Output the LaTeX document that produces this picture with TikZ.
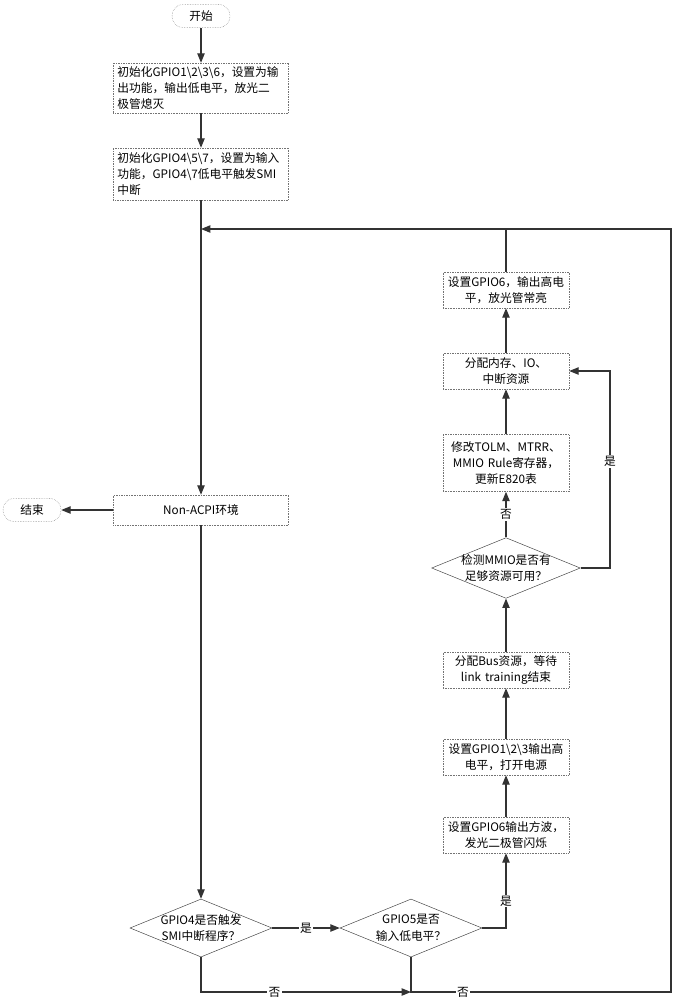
\documentclass[tikz,border=0pt]{standalone}
\usepackage{fontspec}
\setmainfont{Noto Sans CJK SC}
\usetikzlibrary{shapes.geometric,arrows.meta}
\tikzstyle{conn} = [draw=black!80, line width=0.9pt]
\tikzstyle{term} = [draw=black!55, densely dotted, rounded corners=0.34cm, minimum width=1.74cm, minimum height=0.7cm, inner sep=0pt]
\tikzstyle{proc} = [draw=black!55, densely dotted, inner xsep=0.12cm, inner ysep=0pt]
\tikzstyle{wide} = [proc, text width=5.01cm, minimum width=5.25cm, align=left]
\tikzstyle{narrow} = [proc, text width=3.54cm, minimum width=3.78cm, minimum height=1.08cm, align=center]
\tikzstyle{dec} = [draw=black!75, diamond, aspect=2.45, inner sep=-1pt, minimum width=4.26cm, minimum height=1.74cm, align=center]
\tikzstyle{lbl} = [fill=white, inner sep=1pt]

\begin{document}
\begin{tikzpicture}[x=0.03cm, y=-0.03cm, font=\fontsize{10}{14}\selectfont, >={Triangle[length=0.28cm,width=0.22cm]}]
    \useasboundingbox (0,0) rectangle (673,1000);
    \node[term](start) at (201,16){开始};
    \node[wide,minimum height=1.5cm](init1) at (201,88){初始化GPIO1\textbackslash2\textbackslash3\textbackslash6，设置为输\\出功能，输出低电平，放光二\\极管熄灭};
    \node[wide,minimum height=1.56cm](init2) at (201,174){初始化GPIO4\textbackslash5\textbackslash7，设置为输入\\功能，GPIO4\textbackslash7低电平触发SMI\\中断};
    \node[proc,minimum width=5.25cm,minimum height=0.9cm](env) at (201,510){Non-ACPI环境};
    \node[term](stop) at (32,510){结束};
    \node[dec](dec1) at (201,928){GPIO4是否触发\\SMI中断程序？};
    \node[dec](dec2) at (411,928){GPIO5是否\\输入低电平？};
    \node[narrow](wave) at (506,835){设置GPIO6输出方波，\\发光二极管闪烁};
    \node[narrow](power) at (506,757){设置GPIO1\textbackslash2\textbackslash3输出高\\电平，打开电源};
    \node[narrow](bus) at (506,670){分配Bus资源，等待\\link training结束};
    \node[dec](mmio) at (506,568){检测MMIO是否有\\足够资源可用？};
    \node[narrow,minimum height=1.71cm](modify) at (506,463){修改TOLM、MTRR、\\MMIO Rule寄存器，\\更新E820表};
    \node[narrow](alloc) at (506,371){分配内存、IO、\\中断资源};
    \node[narrow](high) at (506,290){设置GPIO6，输出高电\\平，放光管常亮};
    \coordinate (join) at (201,229);
    \coordinate (rtop) at (671,229);
    \coordinate (low) at (411,992);
    \coordinate (rloop) at (610,371);
    \draw[conn,->](start)--(init1);
    \draw[conn,->](init1)--(init2);
    \draw[conn,->](init2)--(env);
    \draw[conn,->](env)--(stop);
    \draw[conn,->](env)--(dec1);
    \draw[conn,->](dec1)--node[lbl]{是}(dec2);
    \draw[conn,->](dec1.south)|-node[lbl,pos=0.675]{否}(low);
    \draw[conn,->](dec2.east)-|node[lbl,pos=0.68]{是}(wave.south);
    \draw[conn,->](wave)--(power);
    \draw[conn,->](power)--(bus);
    \draw[conn,->](bus)--(mmio);
    \draw[conn,->](mmio)--node[lbl]{否}(modify);
    \draw[conn,->](mmio.east)-|node[lbl,pos=0.77]{是}(rloop)--(alloc.east);
    \draw[conn,->](modify)--(alloc);
    \draw[conn,->](alloc)--(high);
    \draw[conn](high)--(high|-join);
    \draw[conn,->](dec2.south)--(low)--node[lbl,pos=0.2]{否}(rtop|-low)--(rtop)--(join);
  \end{tikzpicture}
\end{document}
